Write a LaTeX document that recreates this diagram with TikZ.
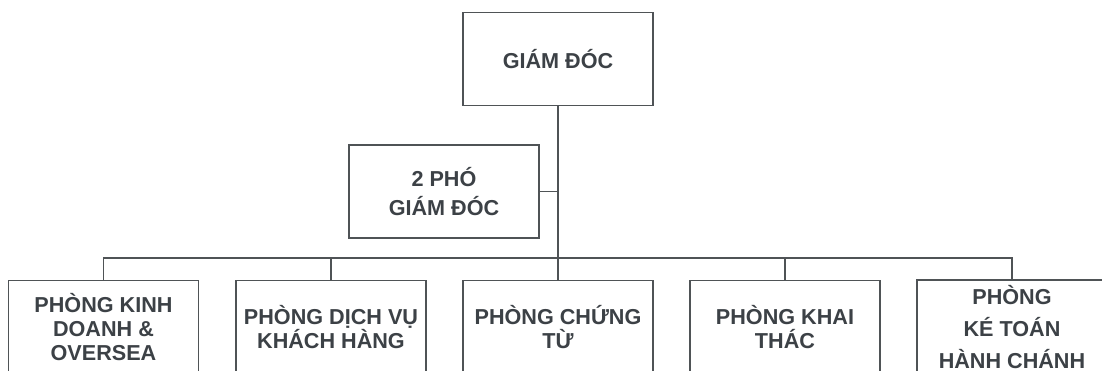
\documentclass[tikz,border=0pt]{standalone}
\usepackage{fontspec}
\setmainfont{Liberation Sans}
\usepackage{xcolor}
\usetikzlibrary{positioning, backgrounds}

\definecolor{linegray}{HTML}{4F5356}
\definecolor{textgray}{HTML}{3C4146}

\begin{document}
\begin{tikzpicture}[x=0.02cm, y=-0.02cm, background rectangle/.style={fill=white}, show background rectangle]
\useasboundingbox (0,0) rectangle (1102,371);
\begin{scope}[every node/.style={rectangle, draw=linegray, line width=1.1pt, text=textgray,
                                 minimum width=3.8cm, minimum height=1.86cm, align=center,
                                 font=\bfseries\fontsize{12.3}{13.6}\selectfont}]
    \node (boss) at (558,59) {GIÁM ĐÓC};
    \node[font=\bfseries\fontsize{12.3}{17}\selectfont] (vice) at (444,191.5) {2 PHÓ\\GIÁM ĐÓC};
    \node (sales) at (103.5,327) {PHÒNG KINH\\DOANH \&\\OVERSEA};
    \node (service) at (331,327) {PHÒNG DỊCH VỤ\\KHÁCH HÀNG};
    \node (docs) at (558,327) {PHÒNG CHỨNG\\TỪ};
    \node (ops) at (785,327) {PHÒNG KHAI\\THÁC};
    \node[font=\bfseries\fontsize{12.3}{18}\selectfont] (acct) at (1012,327) {PHÒNG\\KÉ TOÁN\\HÀNH CHÁNH};
\end{scope}

\coordinate (bus) at (0,258);

\begin{scope}[every path/.style={draw=linegray, line width=1.1pt}]
    \path (boss.south) edge (bus -| boss.south);
    \path (vice.east) edge (vice.east -| boss.south);
    \path (sales.north) |- (bus -| acct.north) -- (acct.north);
    \path (service.north) edge (bus -| service.north);
    \path (docs.north) edge (bus -| docs.north);
    \path (ops.north) edge (bus -| ops.north);
\end{scope}

\end{tikzpicture}
\end{document}
